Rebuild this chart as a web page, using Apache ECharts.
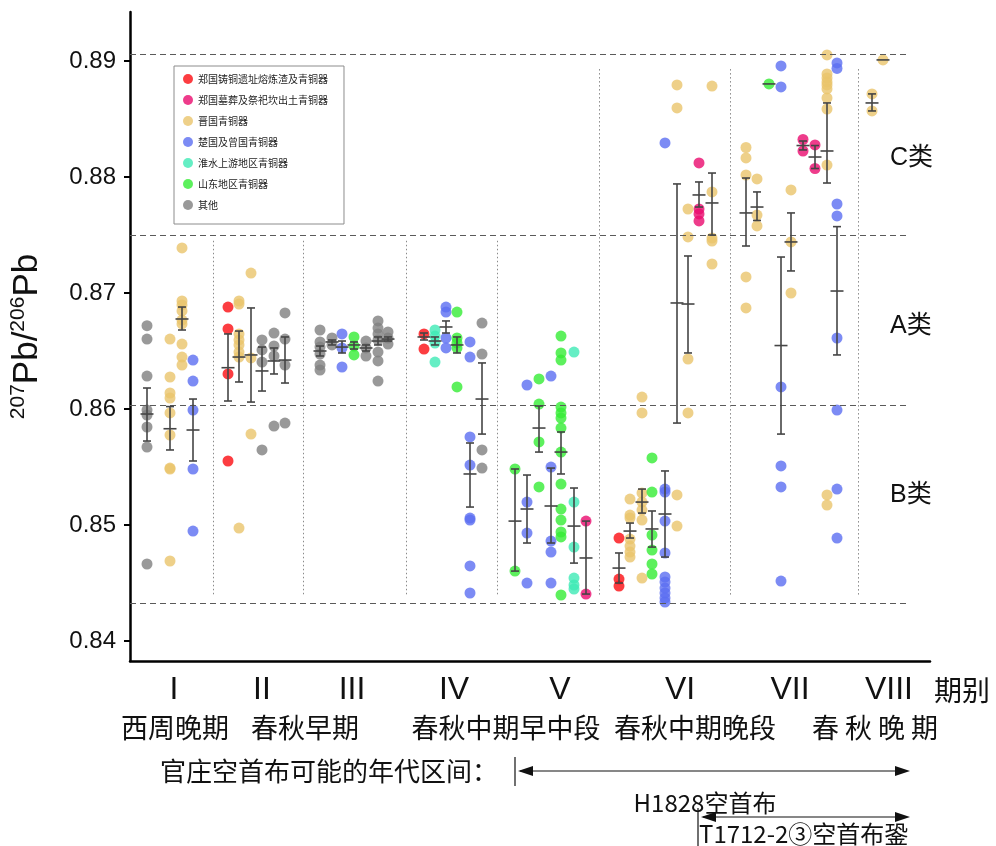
<!DOCTYPE html>
<html>
<head>
<meta charset="utf-8">
<script src="https://cdn.jsdelivr.net/npm/echarts@6/dist/echarts.min.js"></script>
<style>
html, body { margin: 0; padding: 0; background: #fff; }
#main { width: 996px; height: 846px; }
</style>
</head>
<body>
<div id="main"></div>
<script>
// x position of every sample column (periods I..VIII, left to right)
const colPos = [17, 40, 52, 63, 98, 109, 121, 132, 144, 155,
  190, 202, 212, 224, 236, 248, 258, 294, 305, 316, 327, 340, 352,
  385, 397, 409, 421, 431, 444, 456, 489, 500, 512, 522, 535, 547, 558, 569, 582,
  616, 627, 639, 651, 661, 673, 685, 697, 707, 742, 753]

// points: [column, 207Pb/206Pb]
const zhengFoundry = [[4, 0.86879], [4, 0.86690], [4, 0.86302], [4, 0.85552],
  [17, 0.86647], [17, 0.86517], [30, 0.84888], [30, 0.84534], [30, 0.84474]]
const zhengTomb = [[29, 0.85034], [29, 0.84405],
  [37, 0.88121], [37, 0.87724], [37, 0.87681], [37, 0.87621],
  [44, 0.88323], [44, 0.88224], [45, 0.88276], [45, 0.88073]]
const jin = [[1, 0.86603], [1, 0.86276], [1, 0.86138], [1, 0.86095], [1, 0.85966], [1, 0.85776], [1, 0.85491], [1, 0.85483], [1, 0.84690],
  [2, 0.87388], [2, 0.86931], [2, 0.86897], [2, 0.86845], [2, 0.86767], [2, 0.86733], [2, 0.86560], [2, 0.86448], [2, 0.86379],
  [5, 0.86931], [5, 0.86905], [5, 0.86647], [5, 0.86595], [5, 0.86552], [5, 0.86491], [5, 0.86448], [5, 0.84974],
  [6, 0.87172], [6, 0.86440], [6, 0.85784],
  [31, 0.85224], [31, 0.85086], [31, 0.85060], [31, 0.84879], [31, 0.84819], [31, 0.84767], [31, 0.84724],
  [32, 0.86103], [32, 0.85966], [32, 0.85276], [32, 0.85198], [32, 0.85129], [32, 0.85043], [32, 0.84543],
  [35, 0.88793], [35, 0.88595], [35, 0.85259], [35, 0.84991],
  [36, 0.87724], [36, 0.87483], [36, 0.86431], [36, 0.85966],
  [38, 0.88784], [38, 0.87871], [38, 0.87474], [38, 0.87448], [38, 0.87250],
  [39, 0.88254], [39, 0.88164], [39, 0.88017], [39, 0.87138], [39, 0.86871],
  [40, 0.87983], [40, 0.87672], [40, 0.87578],
  [43, 0.87888], [43, 0.87440], [43, 0.87000],
  [46, 0.89052], [46, 0.88888], [46, 0.88853], [46, 0.88819], [46, 0.88793], [46, 0.88759], [46, 0.88681], [46, 0.88586], [46, 0.88103], [46, 0.85259], [46, 0.85172],
  [48, 0.88716], [48, 0.88569], [49, 0.89009]]
const chuZeng = [[3, 0.86422], [3, 0.86241], [3, 0.85991], [3, 0.85483], [3, 0.84948],
  [12, 0.86647], [12, 0.86526], [12, 0.86362],
  [19, 0.86879], [19, 0.86836], [19, 0.86612], [19, 0.86526],
  [21, 0.86578], [21, 0.86448], [21, 0.85759], [21, 0.85517], [21, 0.85060], [21, 0.85043], [21, 0.84647], [21, 0.84414],
  [24, 0.86207], [24, 0.85198], [24, 0.84931], [24, 0.84500],
  [26, 0.86284], [26, 0.85500], [26, 0.84862], [26, 0.84767], [26, 0.84500],
  [34, 0.88293], [34, 0.85310], [34, 0.85284], [34, 0.85034], [34, 0.84759], [34, 0.84552], [34, 0.84509], [34, 0.84457], [34, 0.84414], [34, 0.84371], [34, 0.84336],
  [42, 0.88957], [42, 0.88776], [42, 0.86190], [42, 0.85509], [42, 0.85328], [42, 0.84517],
  [47, 0.88983], [47, 0.88936], [47, 0.87767], [47, 0.87664], [47, 0.86612], [47, 0.85991], [47, 0.85310], [47, 0.84888]]
const huaiUpper = [[18, 0.86681], [18, 0.86629], [18, 0.86569], [18, 0.86405],
  [28, 0.86491], [28, 0.85198], [28, 0.84810], [28, 0.84543], [28, 0.84483], [28, 0.84448]]
const shandong = [[13, 0.86621], [13, 0.86543], [13, 0.86466],
  [20, 0.86836], [20, 0.86612], [20, 0.86569], [20, 0.86526], [20, 0.86190],
  [23, 0.85483], [23, 0.84603],
  [25, 0.86259], [25, 0.86043], [25, 0.85716], [25, 0.85328],
  [27, 0.86629], [27, 0.86483], [27, 0.86422], [27, 0.86017], [27, 0.85966], [27, 0.85922],
  [27, 0.85836], [27, 0.85629], [27, 0.85353], [27, 0.85138], [27, 0.85043], [27, 0.84940], [27, 0.84897], [27, 0.84397],
  [33, 0.85578], [33, 0.85284], [33, 0.84914], [33, 0.84784], [33, 0.84664], [33, 0.84578],
  [41, 0.88802]]
const others = [[0, 0.86718], [0, 0.86603], [0, 0.86284], [0, 0.85991], [0, 0.85948], [0, 0.85845], [0, 0.85672], [0, 0.84664],
  [7, 0.86595], [7, 0.86509], [7, 0.86405], [7, 0.85647],
  [8, 0.86655], [8, 0.86543], [8, 0.86457], [8, 0.85853],
  [9, 0.86828], [9, 0.86603], [9, 0.86379], [9, 0.85879],
  [10, 0.86681], [10, 0.86578], [10, 0.86534], [10, 0.86474], [10, 0.86379], [10, 0.86336],
  [11, 0.86612], [11, 0.86552],
  [14, 0.86586], [14, 0.86526], [14, 0.86457],
  [15, 0.86759], [15, 0.86698], [15, 0.86647], [15, 0.86595], [15, 0.86491], [15, 0.86414], [15, 0.86241],
  [16, 0.86664], [16, 0.86612], [16, 0.86560],
  [22, 0.86741], [22, 0.86474], [22, 0.85647], [22, 0.85491]]

// error bars: [column, low, mean, high]
const errBars = [[0, 0.85724, 0.85957, 0.86181], [1, 0.85647, 0.85830, 0.86021], [2, 0.86681, 0.86776, 0.86879],
  [3, 0.85552, 0.85819, 0.86086], [4, 0.86069, 0.86356, 0.86647], [5, 0.86233, 0.86448, 0.86672],
  [6, 0.86060, 0.86466, 0.86871], [7, 0.86155, 0.86328, 0.86534], [8, 0.86302, 0.86414, 0.86526],
  [9, 0.86224, 0.86422, 0.86621], [10, 0.86457, 0.86500, 0.86543], [11, 0.86552, 0.86578, 0.86595],
  [12, 0.86483, 0.86534, 0.86586], [13, 0.86517, 0.86552, 0.86578], [14, 0.86500, 0.86526, 0.86552],
  [15, 0.86552, 0.86586, 0.86621], [16, 0.86586, 0.86603, 0.86621], [17, 0.86595, 0.86621, 0.86655],
  [18, 0.86552, 0.86586, 0.86621], [19, 0.86655, 0.86707, 0.86759], [20, 0.86483, 0.86552, 0.86621],
  [21, 0.85155, 0.85440, 0.85707], [22, 0.85784, 0.86086, 0.86397], [23, 0.84603, 0.85034, 0.85483],
  [24, 0.84845, 0.85138, 0.85431], [25, 0.85629, 0.85836, 0.86026], [26, 0.84845, 0.85164, 0.85491],
  [27, 0.85440, 0.85629, 0.85802], [28, 0.84672, 0.84991, 0.85319], [29, 0.84405, 0.84716, 0.85034],
  [30, 0.84500, 0.84629, 0.84759], [31, 0.84888, 0.84948, 0.85017], [32, 0.85103, 0.85198, 0.85310],
  [33, 0.84810, 0.84966, 0.85121], [34, 0.84724, 0.85095, 0.85466], [35, 0.85879, 0.86914, 0.87940],
  [36, 0.86483, 0.86905, 0.87319], [37, 0.87741, 0.87845, 0.87957], [38, 0.87500, 0.87776, 0.88034],
  [39, 0.87405, 0.87690, 0.87991], [40, 0.87625, 0.87741, 0.87871], [41, 0.88802, 0.88802, 0.88802],
  [42, 0.85784, 0.86547, 0.87310], [43, 0.87190, 0.87440, 0.87690], [44, 0.88233, 0.88271, 0.88310],
  [45, 0.88073, 0.88172, 0.88271], [46, 0.87948, 0.88224, 0.88638], [47, 0.86466, 0.87017, 0.87572],
  [48, 0.88569, 0.88638, 0.88716], [49, 0.89009, 0.89009, 0.89009]]

// class boundaries (dashed) and period separators (dotted)
const classLines = [0.8906, 0.8750, 0.8603, 0.8433]
const sepPos = [83, 173, 276, 367, 469, 600, 728]
const sepTop = [0.8745, 0.8745, 0.8745, 0.8745, 0.8893, 0.8893, 0.8893]
const sepBottom = 0.8440
const yTicks = [0.84, 0.85, 0.86, 0.87, 0.88, 0.89]

const periodNums = ['I', 'II', 'III', 'IV', 'V', 'VI', 'VII', 'VIII']
const periodNames = ['西周晚期', '春秋早期', '春秋中期早中段', '春秋中期晚段', '春 秋 晚 期']
const classNames = ['C类', 'A类', 'B类']

const groups = [
  {name: '郑国铸铜遗址熔炼渣及青铜器', color: '#fb0d12', data: zhengFoundry},
  {name: '郑国墓葬及祭祀坎出土青铜器', color: '#ea0b6e', data: zhengTomb},
  {name: '晋国青铜器', color: '#eac46c', data: jin},
  {name: '楚国及曾国青铜器', color: '#5b6ef1', data: chuZeng},
  {name: '淮水上游地区青铜器', color: '#3eeab5', data: huaiUpper},
  {name: '山东地区青铜器', color: '#35ec35', data: shandong},
  {name: '其他', color: '#7f7f7f', data: others},
]

const chart = echarts.init(document.getElementById('main'))

const toXY = arr => arr.map(([c, v]) => [colPos[c], v])

const errRender = function(params, api) {
  const x = api.value(0), lo = api.value(1), mean = api.value(2), hi = api.value(3)
  const pLo = api.coord([x, lo]), pHi = api.coord([x, hi]), pM = api.coord([x, mean])
  const st = {stroke: '#454545', lineWidth: 1.6}
  const kids = []
  if (pLo[1] - pHi[1] > 1) {
    kids.push({type: 'line', shape: {x1: pLo[0], y1: pLo[1], x2: pHi[0], y2: pHi[1]}, style: st})
    kids.push({type: 'line', shape: {x1: pLo[0] - 4, y1: pLo[1], x2: pLo[0] + 4, y2: pLo[1]}, style: st})
    kids.push({type: 'line', shape: {x1: pHi[0] - 4, y1: pHi[1], x2: pHi[0] + 4, y2: pHi[1]}, style: st})
  }
  kids.push({type: 'line', shape: {x1: pM[0] - 6.5, y1: pM[1], x2: pM[0] + 6.5, y2: pM[1]}, style: st})
  return {type: 'group', children: kids}
}

const dashStyle = {color: '#5a5a5a', width: 1.1, type: [6, 4]}
const dotStyle = {color: '#8a8a8a', width: 1, type: [1.5, 2.5]}

const series = groups.map(g => ({
  name: g.name,
  type: 'scatter',
  symbol: 'circle',
  symbolSize: 11,
  itemStyle: {color: g.color},
  data: toXY(g.data),
  z: 3,
}))

series.push({
  type: 'custom',
  name: 'err',
  renderItem: errRender,
  encode: {x: 0, y: [1, 2, 3]},
  data: errBars.map(([c, lo, m, hi]) => [colPos[c], lo, m, hi]),
  z: 5,
  silent: true,
})

series.push({
  type: 'line',
  name: 'guides',
  data: [],
  silent: true,
  markLine: {
    silent: true,
    symbol: 'none',
    label: {show: false},
    data: classLines.map(v => [
      {coord: [0, v], lineStyle: dashStyle},
      {coord: [780, v]},
    ]).concat(sepPos.map((p, i) => [
      {coord: [p, sepTop[i]], lineStyle: dotStyle},
      {coord: [p, sepBottom]},
    ])),
  },
})

const txt = (x, y, text, size, align, family) => ({
  type: 'text', x: x, y: y,
  style: {
    text: text, fontSize: size, fill: '#111',
    fontFamily: family || "'Liberation Sans', 'Noto Sans CJK SC', sans-serif",
    align: align || 'center', verticalAlign: 'middle',
  },
})

const numX = [174, 262, 352, 454, 560, 680, 790, 889]
const nameX = [175, 305, 506, 695, 875]
const classY = [158, 326, 495]
const cjkFont = "'Noto Sans CJK SC', sans-serif"
const narrowFont = "'Liberation Sans Narrow', 'Noto Sans CJK SC', sans-serif"

const graphics = []
periodNums.forEach((t, i) => graphics.push(txt(numX[i], 690, t, 32, 'center', "'Liberation Sans', sans-serif")))
graphics.push(txt(962, 690, '期别', 28, 'center', cjkFont))
periodNames.forEach((t, i) => graphics.push(txt(nameX[i], 728, t, 27, 'center', cjkFont)))
classNames.forEach((t, i) => graphics.push(txt(890, classY[i], t, 25, 'left')))
graphics.push(txt(160, 771, '官庄空首布可能的年代区间：', 26, 'left', cjkFont))
graphics.push(txt(705, 803, 'H1828空首布', 24, 'center', narrowFont))
graphics.push(txt(699, 834, 'T1712-2③空首布銎', 24, 'left', narrowFont))

const lineSt = {stroke: '#111', lineWidth: 1.2}
graphics.push({type: 'line', shape: {x1: 515, y1: 757, x2: 515, y2: 786}, style: lineSt})
graphics.push({type: 'line', shape: {x1: 520, y1: 771, x2: 905, y2: 771}, style: lineSt})
graphics.push({type: 'polygon', shape: {points: [[518, 771], [533, 766], [533, 776]]}, style: {fill: '#111'}})
graphics.push({type: 'polygon', shape: {points: [[910, 771], [895, 766], [895, 776]]}, style: {fill: '#111'}})
graphics.push({type: 'line', shape: {x1: 698, y1: 808, x2: 698, y2: 846}, style: lineSt})
graphics.push({type: 'line', shape: {x1: 703, y1: 817, x2: 905, y2: 817}, style: lineSt})
graphics.push({type: 'polygon', shape: {points: [[701, 817], [716, 812], [716, 822]]}, style: {fill: '#111'}})
graphics.push({type: 'polygon', shape: {points: [[910, 817], [895, 812], [895, 822]]}, style: {fill: '#111'}})

chart.setOption({
  animation: false,
  backgroundColor: '#fff',
  grid: {left: 130, top: 12, width: 800, height: 649, outerBoundsMode: 'none'},
  legend: {
    data: groups.map(g => g.name),
    orient: 'vertical',
    left: 174, top: 66,
    icon: 'circle',
    itemWidth: 10, itemHeight: 10, itemGap: 11,
    padding: [8, 16, 14, 9],
    borderColor: '#8c8c8c', borderWidth: 1,
    textStyle: {fontSize: 10, color: '#222', fontFamily: cjkFont},
  },
  xAxis: {
    type: 'value', min: 0, max: 800,
    axisLine: {show: true, onZero: false, lineStyle: {color: '#000', width: 2.5}},
    axisTick: {show: false}, axisLabel: {show: false}, splitLine: {show: false},
  },
  yAxis: {
    type: 'value', min: 0.83828, max: 0.89422,
    axisLine: {show: true, lineStyle: {color: '#000', width: 2.5}},
    axisTick: {show: true, customValues: yTicks, length: 6, lineStyle: {color: '#000', width: 2}},
    axisLabel: {
      customValues: yTicks, formatter: v => v.toFixed(2),
      fontSize: 24, color: '#111', margin: 14, fontFamily: "'Liberation Sans', sans-serif",
    },
    splitLine: {show: false},
    name: '{s|207}{m|Pb/}{s|206}{m|Pb}',
    nameLocation: 'middle', nameRotate: 90, nameGap: 84,
    nameTextStyle: {
      rich: {
        m: {fontSize: 35, color: '#111', fontFamily: "'Liberation Sans', sans-serif"},
        s: {fontSize: 21, color: '#111', fontFamily: "'Liberation Sans', sans-serif", padding: [0, 0, 17, 0]},
      },
    },
  },
  graphic: graphics,
  series: series,
})
</script>
</body>
</html>
